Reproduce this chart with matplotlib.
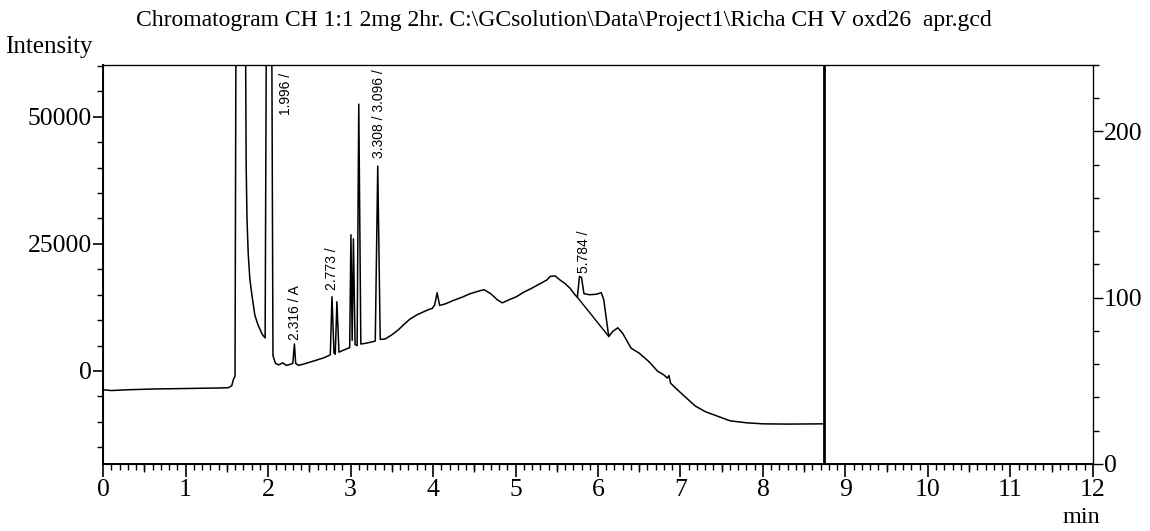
import matplotlib
matplotlib.use('Agg')
import matplotlib.pyplot as plt
from matplotlib.ticker import MultipleLocator, FixedLocator

# chromatogram trace (time in min, intensity); values above the frame are clipped
time = [0.00, 0.10, 0.30, 0.60, 1.00, 1.40, 1.52, 1.56, 1.58, 1.60,
        1.615, 1.72, 1.735, 1.745, 1.76, 1.78, 1.81, 1.84, 1.88, 1.93,
        1.965, 1.985, 2.04, 2.06, 2.09, 2.13, 2.18, 2.22, 2.27, 2.30,
        2.32, 2.335, 2.37, 2.42, 2.50, 2.58, 2.66, 2.72, 2.755, 2.775,
        2.80, 2.815, 2.835, 2.86, 2.90, 2.96, 2.99, 3.005, 3.02, 3.035,
        3.055, 3.08, 3.10, 3.125, 3.20, 3.28, 3.30, 3.33, 3.36, 3.42,
        3.50, 3.58, 3.65, 3.72, 3.80, 3.88, 3.95, 3.99, 4.02, 4.05,
        4.08, 4.15, 4.25, 4.35, 4.45, 4.55, 4.62, 4.70, 4.78, 4.84,
        4.92, 5.01, 5.10, 5.20, 5.30, 5.38, 5.42, 5.48, 5.54, 5.60,
        5.66, 5.72, 5.75, 5.775, 5.80, 5.83, 5.90, 5.98, 6.04, 6.07,
        6.13, 6.18, 6.24, 6.30, 6.40, 6.50, 6.62, 6.72, 6.80, 6.84,
        6.86, 6.88, 6.95, 7.05, 7.18, 7.30, 7.45, 7.60, 7.80, 8.00,
        8.30, 8.74]
intensity = [-3700, -3850, -3700, -3550, -3450, -3350, -3300, -2900, -1700, -1000,
             90000, 90000, 40500, 30000, 23000, 18000, 14300, 11000, 9000, 7200,
             6500, 90000, 90000, 3000, 1500, 1200, 1600, 1100, 1300, 1500,
             5300, 1500, 1100, 1300, 1700, 2100, 2500, 2900, 3200, 14600,
             3500, 3300, 13600, 3700, 4000, 4400, 4600, 26800, 6000, 26000,
             5200, 5000, 52500, 5300, 5500, 5800, 5900, 40300, 6200, 6300,
             7100, 8100, 9200, 10200, 11000, 11600, 12100, 12300, 13000, 15400,
             12900, 13200, 13900, 14500, 15200, 15700, 16000, 15200, 14000, 13400,
             14000, 14600, 15500, 16300, 17200, 17900, 18600, 18700, 17900, 17200,
             16300, 15000, 14500, 18600, 18400, 15200, 15000, 15100, 15400, 14000,
             6800, 7800, 8500, 7400, 4500, 3500, 1800, 0, -800, -1400,
             -900, -2400, -3500, -5000, -6900, -8000, -8900, -9800, -10200, -10400,
             -10450, -10400]

# integration baseline under the 5.784 peak
base_time = [5.75, 6.13]
base_intensity = [14500, 6800]

# peak labels: text, x (min), bottom of text (intensity)
peak_labels = ['1.996 /', '2.316 / A', '2.773 /', '3.308 / 3.096 /', '5.784 /']
label_x = [2.22, 2.33, 2.78, 3.35, 5.83]
label_y = [50400, 6100, 15900, 41900, 19300]

stop_time = 8.74

title = r'Chromatogram CH 1:1 2mg 2hr. C:\GCsolution\Data\Project1\Richa CH V oxd26  apr.gcd'

plt.rcParams['font.family'] = ['Liberation Serif', 'DejaVu Serif']

fig = plt.figure(figsize=(11.5, 5.31), dpi=100)
ax = fig.add_axes([0.0896, 0.1262, 0.8608, 0.7514])

ax.plot(time, intensity, color='black', lw=1.1)
ax.plot(base_time, base_intensity, color='black', lw=1.0)
ax.axvline(stop_time, color='black', lw=2)

for txt, x, y in zip(peak_labels, label_x, label_y):
    ax.text(x, y, txt, rotation=90, ha='center', va='bottom', fontsize=10,
            family=['Liberation Sans Narrow', 'Liberation Sans', 'DejaVu Sans'])

ax.set_xlim(0, 12)
ax.set_ylim(-18300, 60200)
ax.xaxis.set_major_locator(MultipleLocator(1))
ax.xaxis.set_minor_locator(MultipleLocator(0.1))
ax.yaxis.set_major_locator(FixedLocator([0, 25000, 50000]))
ax.yaxis.set_minor_locator(MultipleLocator(5000))
ax.tick_params(axis='x', which='major', direction='out', length=9, width=1.2,
               labelsize=18.5, pad=2)
ax.tick_params(axis='x', which='minor', direction='out', length=4, width=1)
ax.tick_params(axis='y', which='major', direction='out', length=7, width=1.2,
               labelsize=18.5, pad=1)
ax.tick_params(axis='y', which='minor', direction='out', length=4, width=1)

# longer ticks on the half minutes
half = ax.secondary_xaxis('bottom')
half.xaxis.set_major_locator(FixedLocator([i + 0.5 for i in range(12)]))
half.tick_params(length=6, width=1, labelbottom=False)
half.spines['bottom'].set_visible(False)

for s in ['left', 'bottom']:
    ax.spines[s].set_linewidth(1.4)
for s in ['top', 'right']:
    ax.spines[s].set_linewidth(0.9)

ax2 = ax.twinx()
ax2.set_ylim(0, 240)
ax2.yaxis.set_major_locator(FixedLocator([0, 100, 200]))
ax2.yaxis.set_minor_locator(MultipleLocator(20))
ax2.tick_params(axis='y', which='major', direction='out', length=7, width=1,
                labelsize=18.5, pad=1)
ax2.tick_params(axis='y', which='minor', direction='out', length=4, width=1)

fig.text(0.49, 0.962, title, ha='center', va='center', fontsize=17)
fig.text(0.004, 0.912, 'Intensity', ha='left', va='center', fontsize=18)
fig.text(0.94, 0.025, 'min', ha='center', va='center', fontsize=17.5)

fig.savefig('out.png', dpi=100)
